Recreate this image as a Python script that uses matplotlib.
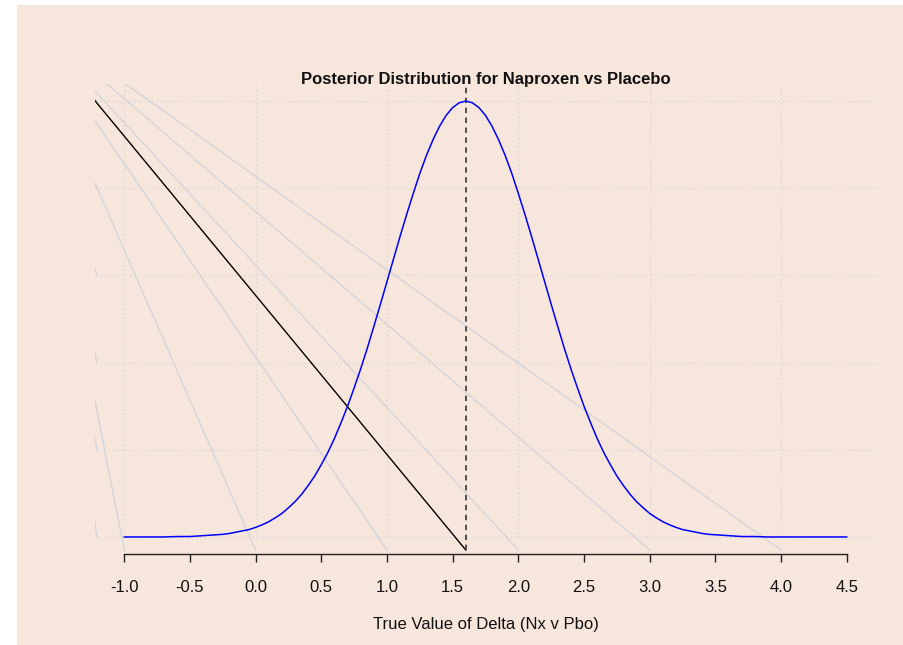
import matplotlib
matplotlib.use("Agg")
import matplotlib.pyplot as plt
from matplotlib.patches import Rectangle

plt.rcParams['font.family'] = ['Liberation Sans', 'DejaVu Sans']

# ---- data ----
x_vals = [-1.0, -0.9, -0.8, -0.7, -0.6,
          -0.50, -0.45, -0.40, -0.35, -0.30, -0.25, -0.20, -0.15, -0.10, -0.05,
          0.00, 0.05, 0.10, 0.15, 0.20, 0.25, 0.30, 0.35, 0.40, 0.45,
          0.50, 0.55, 0.60, 0.65, 0.70, 0.75, 0.80, 0.85, 0.90, 0.95,
          1.00, 1.05, 1.10, 1.15, 1.20, 1.25, 1.30, 1.35, 1.40, 1.45,
          1.50, 1.55, 1.60, 1.65, 1.70, 1.75, 1.80, 1.85, 1.90, 1.95,
          2.00, 2.05, 2.10, 2.15, 2.20, 2.25, 2.30, 2.35, 2.40, 2.45,
          2.50, 2.55, 2.60, 2.65, 2.70, 2.75, 2.80, 2.85, 2.90, 2.95,
          3.00, 3.05, 3.10, 3.15, 3.20, 3.25, 3.30, 3.35, 3.40, 3.45,
          3.50, 3.55, 3.60, 3.65, 3.70,
          3.8, 3.9, 4.0, 4.1, 4.2, 4.3, 4.4, 4.5]
density = [0.000, 0.000, 0.000, 0.000, 0.001,
           0.001, 0.002, 0.003, 0.004, 0.005, 0.006, 0.008, 0.011, 0.014, 0.017,
           0.022, 0.028, 0.035, 0.044, 0.054, 0.067, 0.081, 0.098, 0.118, 0.140,
           0.166, 0.194, 0.226, 0.262, 0.300, 0.342, 0.386, 0.433, 0.483, 0.534,
           0.586, 0.638, 0.690, 0.740, 0.788, 0.834, 0.875, 0.911, 0.942, 0.967,
           0.985, 0.996, 1.000, 0.996, 0.985, 0.967, 0.942, 0.911, 0.875, 0.834,
           0.788, 0.740, 0.690, 0.638, 0.586, 0.534, 0.483, 0.433, 0.386, 0.342,
           0.300, 0.262, 0.226, 0.194, 0.166, 0.140, 0.118, 0.098, 0.081, 0.067,
           0.054, 0.044, 0.035, 0.028, 0.022, 0.017, 0.014, 0.011, 0.008, 0.006,
           0.005, 0.004, 0.003, 0.002, 0.001,
           0.001, 0.000, 0.000, 0.000, 0.000, 0.000, 0.000, 0.000]
posterior_mean = 1.6
x_ticks = [-1.0, -0.5, 0.0, 0.5, 1.0, 1.5, 2.0, 2.5, 3.0, 3.5, 4.0, 4.5]
x_tick_labels = ["-1.0", "-0.5", "0.0", "0.5", "1.0", "1.5", "2.0",
                 "2.5", "3.0", "3.5", "4.0", "4.5"]
x_grid = [-1, 0, 1, 2, 3, 4]
y_grid = [0.0, 0.2, 0.4, 0.6, 0.8, 1.0]
ray_origin = (-1.81, 1.215)
ray_end_y = -0.03
title = "Posterior Distribution for Naproxen vs Placebo"
xlabel = "True Value of Delta (Nx v Pbo)"

# ---- styling ----
peach = '#F7E6DC'
grid_col = '#D2D2D6'
ray_col = '#D2D5DB'

fig = plt.figure(figsize=(9.04, 6.45), dpi=100, facecolor='white')
bg = Rectangle((17 / 904, -0.5), 2.0, 1.5 - 5 / 645,
               transform=fig.transFigure, facecolor=peach,
               edgecolor='none', zorder=-10)
fig.patches.append(bg)
ax = fig.add_axes([0.10553, 0.14047, 0.86305, 0.72992], zorder=1)
ax.set_facecolor('none')
ax.patch.set_alpha(0.0)

xmin, xmax = -1.22, 4.72
ymin, ymax = -0.04, 1.04

# grid
for gx in x_grid:
    ax.plot([gx, gx], [0, ymax], color=grid_col, lw=0.9, ls=(0, (1, 2.5)), zorder=1)
for gy in y_grid:
    ax.plot([xmin, xmax], [gy, gy], color=grid_col, lw=0.9, ls=(0, (1, 2.5)), zorder=1)

# rays from corner to x grid positions and y grid levels
for gx in x_grid:
    ax.plot([ray_origin[0], gx], [ray_origin[1], ray_end_y], color=ray_col, lw=1.0, zorder=2)
for gy in y_grid:
    ax.plot([ray_origin[0], xmin + 0.012], [ray_origin[1], gy], color=ray_col, lw=1.0, zorder=2)
ax.plot([ray_origin[0], posterior_mean], [ray_origin[1], ray_end_y], color='black', lw=1.0, zorder=3)

# dashed mean line
ax.plot([posterior_mean, posterior_mean], [ray_end_y, ymax], color='#444444', lw=1.3,
        ls=(0, (3, 2.5)), zorder=3)

# posterior curve
ax.plot(x_vals, density, color='#0000FF', lw=1.1, zorder=4)

ax.set_xlim(xmin, xmax)
ax.set_ylim(ymin, ymax)

for s in ['top', 'right', 'left']:
    ax.spines[s].set_visible(False)
ax.spines['bottom'].set_bounds(x_ticks[0], x_ticks[-1])
ax.spines['bottom'].set_color('#222222')
ax.spines['bottom'].set_linewidth(1.0)
ax.set_yticks([])
ax.set_xticks(x_ticks)
ax.set_xticklabels(x_tick_labels)
ax.tick_params(axis='x', direction='out', length=6, width=1.0, color='#222222',
               pad=12.5, labelsize=12, labelcolor='#111111')
ax.set_xlabel(xlabel, fontsize=12, labelpad=16, color='#111111')
ax.set_title(title, fontsize=12, fontweight='bold', y=1.0, pad=0, color='#111111')

fig.savefig('out.png', dpi=100, facecolor='white')
